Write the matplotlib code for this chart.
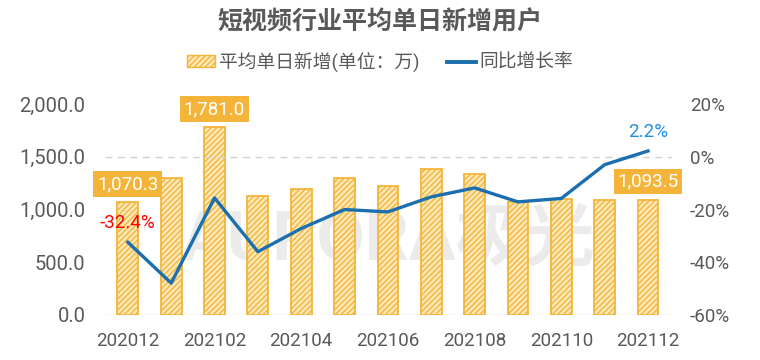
import matplotlib
matplotlib.use("Agg")
import matplotlib.pyplot as plt
from matplotlib.lines import Line2D
from matplotlib.patches import Patch

plt.rcParams['font.family'] = ['Roboto', 'Noto Sans CJK SC', 'DejaVu Sans']
plt.rcParams['hatch.linewidth'] = 1.0

months = ['202012', '202101', '202102', '202103', '202104', '202105', '202106',
          '202107', '202108', '202109', '202110', '202111', '202112']
daily_new = [1070.3, 1303, 1781.0, 1132, 1195, 1303, 1224, 1382, 1341, 1069, 1098, 1090, 1093.5]
yoy_growth = [-32.4, -47.9, -15.6, -36.0, -27.2, -20.0, -20.9, -15.2, -11.8, -17.1, -15.8, -3.0, 2.2]
left_ticks = [0, 500, 1000, 1500, 2000]
right_ticks = [-60, -40, -20, 0, 20]

title = '短视频行业平均单日新增用户'
bar_label = '平均单日新增(单位：万)'
line_label = '同比增长率'

gray = '#595959'
orange = '#f4b43a'
blue = '#1b6fae'

fig = plt.figure(figsize=(7.6, 3.6), dpi=100)
ax = fig.add_axes([0.138, 0.125, 0.746, 0.586])
ax2 = ax.twinx()

x = list(range(len(months)))
ax.bar(x, daily_new, width=0.48, facecolor='#fde8b8', edgecolor=orange,
       hatch='//////', linewidth=1.3, zorder=2)
ax2.plot(x, yoy_growth, color=blue, linewidth=2.4, zorder=3)

ax.set_ylim(0, 2000)
ax2.set_ylim(-60, 20)
ax.set_xlim(-0.53, 12.55)

ax.set_yticks(left_ticks)
ax.set_yticklabels([f'{v:,.1f}' for v in left_ticks])
ax2.set_yticks(right_ticks)
ax2.set_yticklabels([f'{v}%' for v in right_ticks])
ax.set_xticks(x[::2])
ax.set_xticklabels(months[::2])

for a in (ax, ax2):
    for s in a.spines.values():
        s.set_visible(False)
    a.tick_params(length=0, labelsize=13.5, labelcolor=gray)
ax.tick_params(axis='y', pad=14, labelsize=14.5)
ax2.tick_params(axis='y', pad=13)
ax.tick_params(axis='x', pad=12)

ax.axhline(0, color='#d9d9d9', linewidth=1, zorder=1)
ax2.axhline(0, color='#d0d0d0', linewidth=1, linestyle=(0, (5, 4)), zorder=1)

# watermark
ax.text(0.5, 0.35, 'AURORA极光', transform=ax.transAxes, fontsize=50,
        fontweight='bold', color='#ebebeb', ha='center', va='center', zorder=0)

box = dict(boxstyle='square,pad=0.2', facecolor=orange, edgecolor='none')
for i in (0, 2, 12):
    ax.annotate(f'{daily_new[i]:,.1f}', (x[i], daily_new[i]), xytext=(0, 13),
                textcoords='offset points', ha='center', va='center', color='white',
                fontsize=13.5, bbox=box, zorder=5, annotation_clip=False)

ax2.annotate(f'{yoy_growth[0]:.1f}%', (x[0], yoy_growth[0]), xytext=(0, 14),
             textcoords='offset points', ha='center', va='center', color='#ff0000',
             fontsize=13.5, zorder=5)
ax2.annotate(f'{yoy_growth[-1]:.1f}%', (x[-1], yoy_growth[-1]), xytext=(0, 14),
             textcoords='offset points', ha='center', va='center', color='#1e8fe1',
             fontsize=13.5, zorder=5)

fig.text(0.5, 0.939, title, ha='center', va='center', fontsize=18,
         fontweight='bold', color=gray)

handles = [Patch(facecolor='#fde8b8', edgecolor=orange, hatch='//////'),
           Line2D([0], [0], color=blue, linewidth=2.8)]
fig.legend(handles, [bar_label, line_label], loc='center', bbox_to_anchor=(0.5, 0.828),
           ncol=2, frameon=False, fontsize=13.5, labelcolor=gray, handlelength=1.5,
           handleheight=0.6, handletextpad=0.2, columnspacing=1.5)

fig.savefig('out.png', dpi=100)
